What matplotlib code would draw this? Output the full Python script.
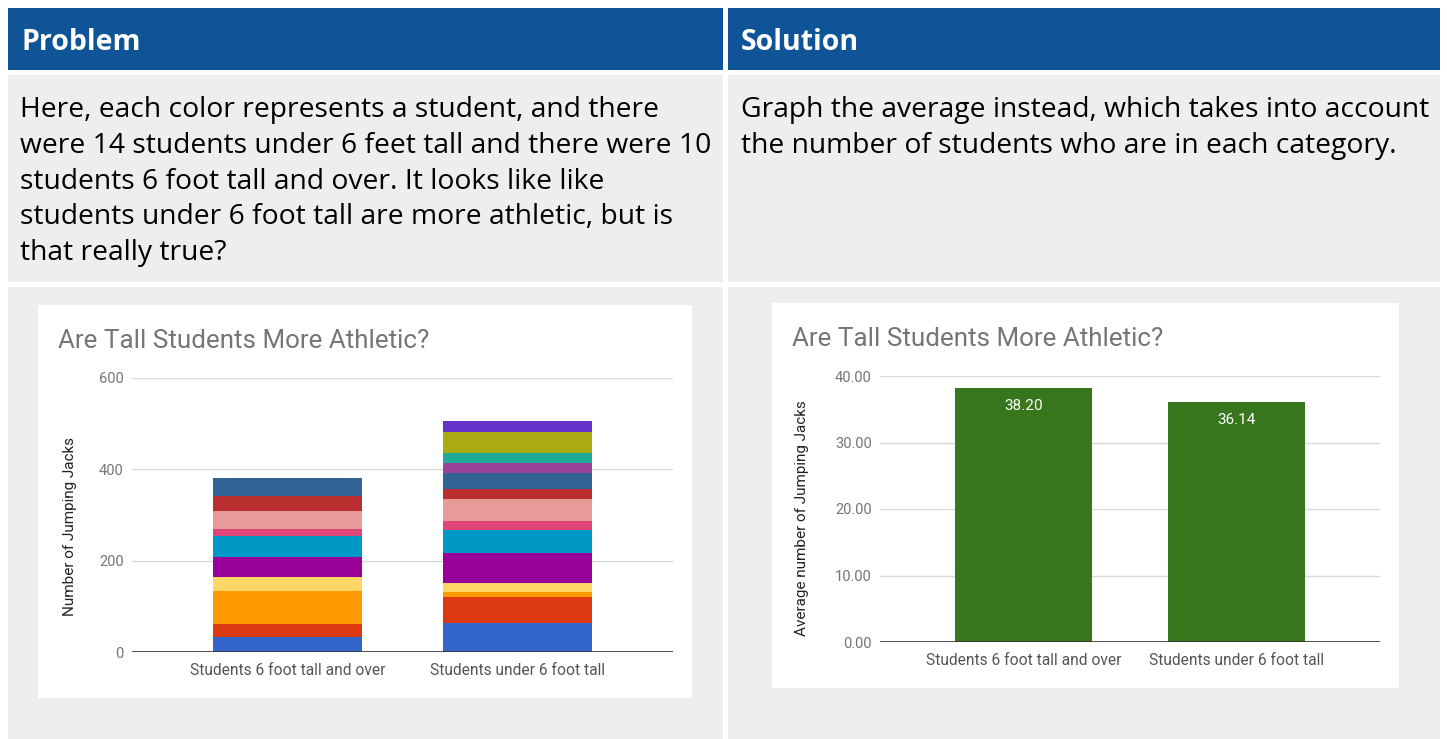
import numpy as np
import matplotlib.pyplot as plt
from matplotlib.patches import Rectangle

W, H = 1447, 739

# stacked chart: one value per student, bottom to top
tall_jacks = [32, 29, 73, 31, 44, 46, 14, 39, 34, 40]
short_jacks = [64, 57, 11, 20, 64, 51, 20, 47, 22, 35, 22, 23, 45, 25]
student_colors = ['#3366cc', '#dc3912', '#ff9900', '#fdd663', '#990099',
                  '#0099c6', '#dd4477', '#e89a98', '#b82e2e', '#316395',
                  '#994499', '#22aa99', '#aaaa11', '#6633cc']
categories = ['Students 6 foot tall and over', 'Students under 6 foot tall']
averages = [38.20, 36.14]

left_ticks = [0, 200, 400, 600]
right_ticks = [0, 10, 20, 30, 40]

problem_text = ("Here, each color represents a student, and there\n"
                "were 14 students under 6 feet tall and there were 10\n"
                "students 6 foot tall and over. It looks like like\n"
                "students under 6 foot tall are more athletic, but is\n"
                "that really true?")
solution_text = ("Graph the average instead, which takes into account\n"
                 "the number of students who are in each category.")

HEAD = '#0f5496'
CELL = '#eeeeee'
GRID = '#d9d9d9'
TICK = '#757575'

fig = plt.figure(figsize=(W / 100, H / 100), dpi=100)
fig.patch.set_facecolor('white')


def box(x0, y0, x1, y1):
    # pixel box (top-left origin) -> figure fraction rect
    return [x0 / W, 1 - y1 / H, (x1 - x0) / W, (y1 - y0) / H]


def px(x, y):
    return x / W, 1 - y / H


def cell(x0, y0, x1, y1, color):
    l, b, w, h = box(x0, y0, x1, y1)
    fig.patches.append(Rectangle((l, b), w, h, transform=fig.transFigure,
                                 facecolor=color, edgecolor='none', zorder=-10))


# table cells
cell(8, 8, 723, 70, HEAD)
cell(728, 8, 1440, 70, HEAD)
cell(8, 75, 723, 282, CELL)
cell(728, 75, 1440, 282, CELL)
cell(8, 287, 723, 739, CELL)
cell(728, 287, 1440, 739, CELL)
# white chart cards
cell(38, 305, 692, 698, 'white')
cell(772, 303, 1399, 688, 'white')

fig.text(*px(21, 42), 'Problem', color='white', fontsize=20.5, fontweight='bold',
         family='Open Sans', va='center', ha='left')
fig.text(*px(741, 42), 'Solution', color='white', fontsize=20.5, fontweight='bold',
         family='Open Sans', va='center', ha='left')
fig.text(*px(20, 96), problem_text, color='black', fontsize=20.3,
         family='Open Sans', va='top', ha='left', linespacing=1.37)
fig.text(*px(741, 96), solution_text, color='black', fontsize=20.3,
         family='Open Sans', va='top', ha='left', linespacing=1.37)


def style_axis(ax, ticks, labels, ylabel, label_x, label_y):
    ax.set_facecolor('white')
    for s in ax.spines.values():
        s.set_visible(False)
    ax.set_yticks(ticks)
    ax.set_yticklabels(labels, family='Roboto', fontsize=10.5, color=TICK)
    ax.tick_params(axis='y', length=0, pad=6)
    ax.tick_params(axis='x', length=0, pad=8)
    ax.yaxis.grid(True, color=GRID, linewidth=1)
    ax.set_axisbelow(True)
    ax.axhline(0, color='#333333', linewidth=1.2, zorder=3)
    ax.set_xticks([0, 1])
    ax.set_xticklabels(categories, family='Roboto', fontsize=11.2, color='#555555')
    ax.set_ylabel(ylabel, family='Roboto', fontsize=11, color='#222222')
    ax.yaxis.set_label_coords(label_x, label_y)


# left: stacked totals
ax1 = fig.add_axes(box(132, 378, 673, 652))
for xi, vals in enumerate([tall_jacks, short_jacks]):
    bottom = 0
    for i, v in enumerate(vals):
        ax1.bar(xi, v, width=0.648, bottom=bottom, color=student_colors[i], zorder=2)
        bottom += v
ax1.set_xlim(-0.676, 1.676)
ax1.set_ylim(0, 600)
style_axis(ax1, left_ticks, [str(t) for t in left_ticks], 'Number of Jumping Jacks',
           (77 - 132) / 541, (652 - 526) / 274)
fig.text(*px(58, 341), 'Are Tall Students More Athletic?', family='Roboto',
         fontsize=18.7, color=TICK, va='center', ha='left')

# right: averages
ax2 = fig.add_axes(box(880, 376, 1380, 642))
bars = ax2.bar([0, 1], averages, width=0.643, color='#38761d', zorder=2)
for b, v in zip(bars, averages):
    ax2.annotate(f'{v:.2f}', (b.get_x() + b.get_width() / 2, v),
                 xytext=(0, -8), textcoords='offset points', ha='center', va='top',
                 color='white', family='Roboto', fontsize=11)
ax2.set_xlim(-0.674, 1.674)
ax2.set_ylim(0, 40)
style_axis(ax2, right_ticks, [f'{t:.2f}' for t in right_ticks],
           'Average number of Jumping Jacks', (809 - 880) / 500, (642 - 518) / 266)
fig.text(*px(792, 339), 'Are Tall Students More Athletic?', family='Roboto',
         fontsize=18.7, color=TICK, va='center', ha='left')

fig.savefig('out.png', dpi=100, facecolor='white')
